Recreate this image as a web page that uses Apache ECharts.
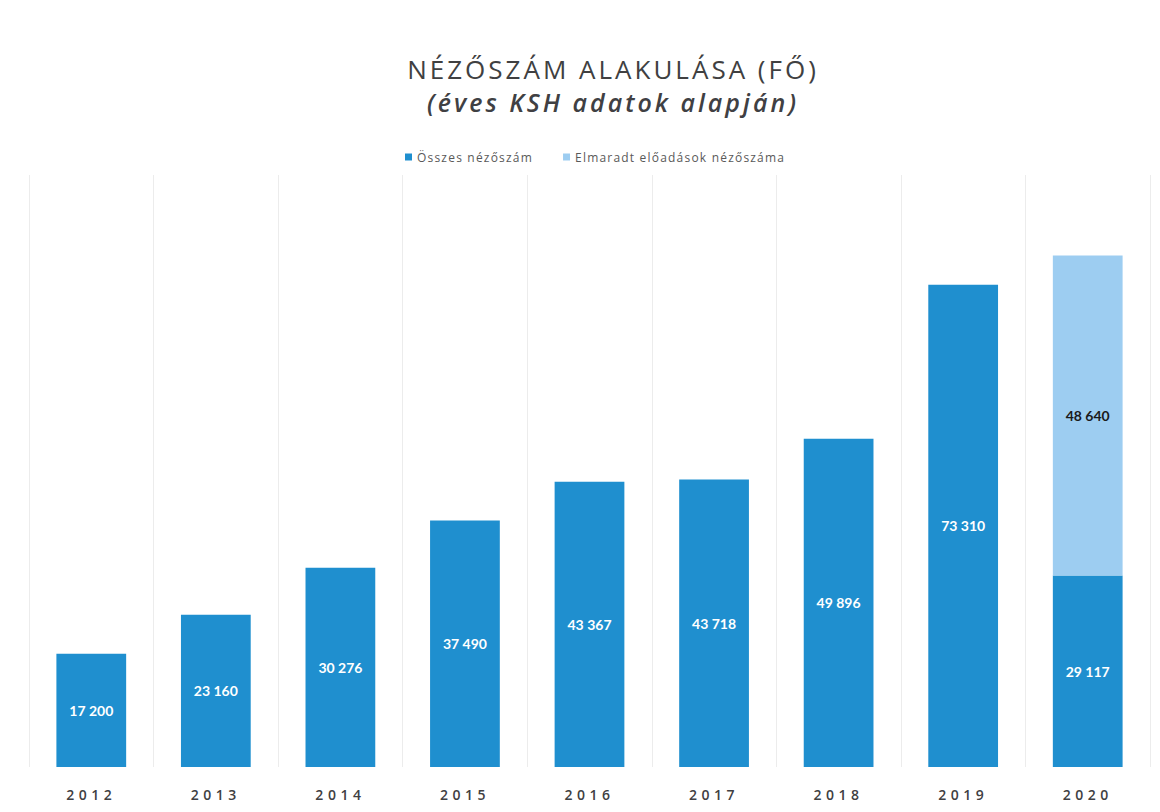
<!DOCTYPE html>
<html>
<head>
<meta charset="utf-8">
<script src="https://cdn.jsdelivr.net/npm/echarts@6/dist/echarts.min.js"></script>
<style>
html,body{margin:0;padding:0;background:#fff;}
#chart{width:1160px;height:812px;}
#chart text[fill="#404041"]{letter-spacing:3px;}
#chart text[fill="#404042"]{letter-spacing:4.5px;}
#chart text[fill="#404043"]{letter-spacing:3px;}
#chart text[fill="#595959"]{letter-spacing:1.2px;}
</style>
</head>
<body>
<div id="chart"></div>
<script>
const years = ['2012','2013','2014','2015','2016','2017','2018','2019','2020'];
const osszes = [17200, 23160, 30276, 37490, 43367, 43718, 49896, 73310, 29117];
const elmaradt = [null, null, null, null, null, null, null, null, 48640];
const seriesNames = ['Összes nézőszám', 'Elmaradt előadások nézőszáma'];
const titleText = 'NÉZŐSZÁM ALAKULÁSA (FŐ)';
const subtitleText = '(éves KSH adatok alapján)';

function fmt(v){ return String(v).replace(/\B(?=(\d{3})+(?!\d))/g, ' '); }

const chart = echarts.init(document.getElementById('chart'), null, {renderer:'svg'});
chart.setOption({
  backgroundColor:'#ffffff',
  animation:false,
  title:{
    text: titleText,
    subtext: subtitleText,
    left: 608, top: 51, textAlign:'center',
    itemGap: 7,
    textStyle:{fontFamily:'Open Sans', fontSize:26, fontWeight:'normal', color:'#404041'},
    subtextStyle:{fontFamily:'Open Sans', fontSize:25, fontStyle:'italic', fontWeight:600, color:'#404043'}
  },
  legend:{
    top: 146, left: 400,
    itemWidth: 7, itemHeight: 7, itemGap: 48,
    icon:'rect',
    textStyle:{fontFamily:'Open Sans', fontSize:12, color:'#595959'},
    data: seriesNames
  },
  grid:{left:29, right:10, top:175, bottom:45, containLabel:false},
  xAxis:{
    type:'category', data: years,
    axisLine:{show:false}, axisTick:{show:false},
    splitLine:{show:true, lineStyle:{color:'#ececec', width:1}},
    axisLabel:{margin:20, fontFamily:'Open Sans', fontSize:14, fontWeight:600, color:'#404042'}
  },
  yAxis:{type:'value', min:0, max:90000, show:false, splitLine:{show:false}},
  series:[
    {
      name: seriesNames[0], type:'bar', stack:'a', data: osszes, barWidth:'56%',
      itemStyle:{color:'#1f8fcf'},
      label:{show:true, position:'inside', color:'#ffffff', fontFamily:'Lato', fontWeight:'bold', fontSize:14, formatter:p=>fmt(p.value)}
    },
    {
      name: seriesNames[1], type:'bar', stack:'a', data: elmaradt, barWidth:'56%',
      itemStyle:{color:'#9dcdf1'},
      label:{show:true, position:'inside', color:'#1a1a1a', fontFamily:'Lato', fontWeight:'bold', fontSize:14, formatter:p=>p.value==null?'':fmt(p.value)}
    }
  ]
});
</script>
</body>
</html>
